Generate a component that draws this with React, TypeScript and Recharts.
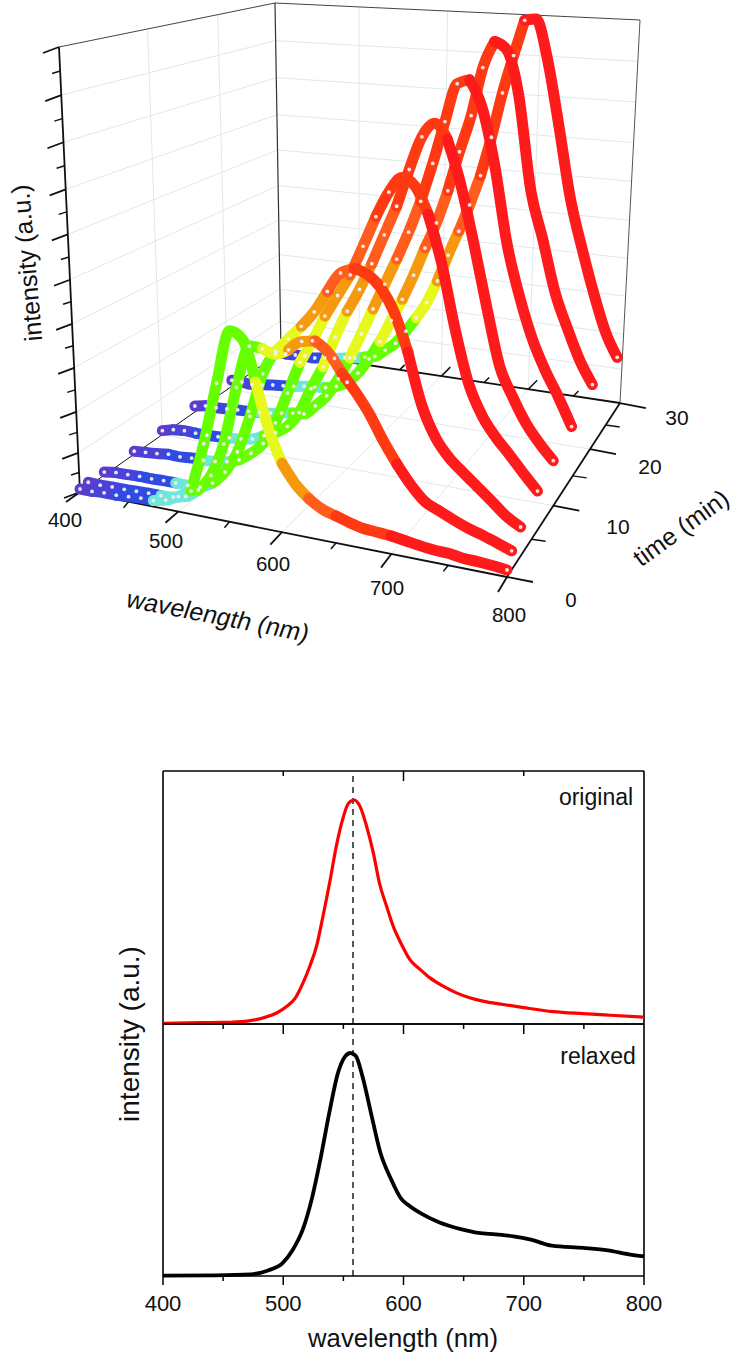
import React from "react";
import { LineChart, Line, XAxis, YAxis, ReferenceLine } from "recharts";

// ---------- waterfall data ----------
const wavelengths = [400,412.5,425,437.5,450,462.5,475,487.5,500,512.5,525,537.5,550,562.5,575,587.5,600,612.5,625,637.5,650,662.5,675,687.5,700,712.5,725,737.5,750,762.5,775,787.5,800];
const times = [0, 0.9, 2.7, 6.3, 10, 14.7, 20.7, 29];
const spectrum0 = [3,3,4,4,5,6,6,9,15,23,73,136,191,185,145,100,69,51,39,31,27,23,20,19,18,16,14,12.5,12,10,9.5,8.5,7];
const spectrum1 = [4,3.4,4,4,4.5,5,5,6,9,18,35,69,128,172,172,169,176,187,190,181,163,147,128,104,83,65,51,44.6,38.5,33,29,24,19];
const spectrum2 = [3,4.8,5,5.5,5.5,6,6,6,6.6,13,26.5,49,87,132,157,172,187,204,227,248,255,252,241,219,182,132,102,84,72,60.6,49,37,29];
const spectrum3 = [3,4,5,6.5,6,7,7,8,10,14,23,35,58,90,123,147,174,197,220,251,283,310,327,321,295,249,186,134,104,85,70,54,39];
const spectrum4 = [4,7,8,7.5,7.5,8,9,10,12,17.5,22.6,31,47,73,97,129,157,181,209,240,271,310,345,361,347,306,250,188,130,101,77,59.5,45];
const spectrum5 = [6,8,8,8.6,9.5,10,11,12,14,16,17,27,39,58,81,107,134,161,188,217,250,290,334,374,380,355,300,222,171,131,102,78,51];
const spectrum6 = [6,6,5,6.5,8,9,10,12,13,14,17,23,34,50,69,92,115,141,170,197,231,272,310,360,388,382,339,246,198,147,113,83,61];
const spectrum7 = [3.5,3,3.4,4,3.4,5,6,8,9.4,12,14,22,30.5,44,59,76,99,126.5,152,180,211,251,297,336,373,376,338,273,202,154,111,74,50];
const spectra = [spectrum0, spectrum1, spectrum2, spectrum3, spectrum4, spectrum5, spectrum6, spectrum7];
const lastRisingIndex = [11, 17, 19, 21, 22, 23, 23, 24];

const bandStops = [0, 1, 3, 6, 9, 14, 16, 18, 20, 24, 32];
const bandColors = ["#5b3ccc", "#4a42d6", "#2f4be2", "#6fe6da", "#66ff00", "#e6f81c", "#f59a0e", "#ff5c1e", "#ff3a12", "#ff1a1c"];

const wlMajor = [400, 500, 600, 700, 800];
const wlMinor = [450, 550, 650, 750];
const timeMajor = [0, 10, 20, 30];
const timeMinor = [5, 15, 25];
const heightMajor = [0, 0.088, 0.18, 0.279, 0.378, 0.477, 0.579, 0.68, 0.786, 0.892, 1];

// ---------- flat spectra ----------
const originalWl = [400,431,450,470,483,494.5,503,510,517,522,528,533,539,544,550,554,559,564,569,575,580,586,591.5,598.5,605,614,622,633,644,655,666,683,700,724.5,749.5,772,800];
const originalI = [.003,.006,.007,.013,.027,.049,.079,.116,.19,.257,.354,.48,.643,.791,.925,.984,1,.97,.889,.762,.629,.525,.436,.354,.29,.243,.206,.169,.139,.117,.102,.087,.073,.055,.046,.039,.031];
const relaxedWl = [400,443.7,472.9,487.4,499,507.7,516.5,523.8,531,538.4,545.7,551.5,555.9,560.3,566,573.4,580.6,589.4,598,604,615.6,630,647.7,662.3,676.8,691.4,706,723.4,749.6,770,787.5,800];
const relaxedI = [.0015,.003,.0075,.025,.055,.115,.212,.347,.526,.735,.914,.985,1,.987,.892,.72,.556,.437,.347,.318,.277,.24,.21,.193,.187,.178,.163,.136,.126,.115,.097,.088];
const panelTicks = [400,450,500,550,600,650,700,750,800];
const frameTicks = [500,600,700];
const peakMarker = 558;
const Y_MAX = 1.13;

// ---------- projection of the 3D box onto the page ----------
type P = { x: number; y: number };
const lerp = (a: P, b: P, s: number): P => ({ x: a.x + (b.x - a.x) * s, y: a.y + (b.y - a.y) * s });
const FLOOR_LF = { x: 80, y: 492 }, FLOOR_LB = { x: 281, y: 352 }, FLOOR_RB = { x: 620, y: 403 }, FLOOR_RF = { x: 507, y: 577 };
const TOP_LF = { x: 59, y: 47 }, TOP_LB = { x: 275, y: 3 }, TOP_RB = { x: 640, y: 20 };
const wlFrac = (w: number) => { const s = (w - 400) / 400; return (0.8975 * s) / (1 - 0.1025 * s); };
const timeFrac = (t: number) => (0.0463 * t) / (1 + 0.013 * t);
const floorPt = (w: number, t: number) => lerp(lerp(FLOOR_LF, FLOOR_LB, timeFrac(t)), lerp(FLOOR_RF, FLOOR_RB, timeFrac(t)), wlFrac(w));
const off = (p: P, dx: number, dy: number): P => ({ x: p.x + dx, y: p.y + dy });

const seg = (key: string, data: P[], stroke: string, width: number) => (
  <Line key={key} data={data} dataKey="y" type="linear" stroke={stroke} strokeWidth={width} dot={false} activeDot={false} isAnimationActive={false} legendType="none" />
);

const GRID = "#e1e8ea";
const INK = "#111";
const gridLines: React.ReactNode[] = [];
heightMajor.slice(1, -1).forEach((z, i) => {
  const a = lerp(FLOOR_LF, TOP_LF, z), b = lerp(FLOOR_LB, TOP_LB, z), c = lerp(FLOOR_RB, TOP_RB, z);
  gridLines.push(seg("gz" + i, [a, b, c], GRID, 1));
});
[10, 20].forEach((t) => {
  const f = timeFrac(t);
  gridLines.push(seg("gt" + t, [lerp(TOP_LF, TOP_LB, f), lerp(FLOOR_LF, FLOOR_LB, f), floorPt(800, t)], GRID, 1));
});
[500, 600, 700].forEach((w) => {
  const g = wlFrac(w);
  gridLines.push(seg("gw" + w, [lerp(TOP_LB, TOP_RB, g), lerp(FLOOR_LB, FLOOR_RB, g), floorPt(w, 0)], GRID, 1));
});

const boxLines: React.ReactNode[] = [
  seg("edgeTop", [TOP_LF, TOP_LB, TOP_RB], "#444", 1),
  seg("edgeBack", [TOP_LB, FLOOR_LB], "#333", 1.2),
  seg("edgeRight", [TOP_RB, FLOOR_RB], "#555", 1),
  seg("edgeLeft", [TOP_LF, FLOOR_LF], INK, 1.8),
  seg("floorLeft", [FLOOR_LF, FLOOR_LB], INK, 1),
  seg("floorBack", [FLOOR_LB, FLOOR_RB], INK, 1.8),
  seg("floorFront", [FLOOR_LF, FLOOR_RF], INK, 1.8),
  seg("floorRight", [FLOOR_RF, FLOOR_RB], INK, 1.8),
];
wlMajor.forEach((w) => {
  const p = floorPt(w, 0), s = wlFrac(w);
  boxLines.push(seg("wt" + w, [p, off(p, -14 + 5 * s, 10 + 5 * s)], INK, 1.8));
  if (w > 500 && w < 800) { const q = lerp(FLOOR_LB, FLOOR_RB, s); boxLines.push(seg("wb" + w, [q, off(q, 9, -9)], INK, 1.5)); }
});
wlMinor.forEach((w) => {
  const p = floorPt(w, 0);
  boxLines.push(seg("wm" + w, [p, off(p, -5, 6)], INK, 1.5));
  if (w > 500) { const q = lerp(FLOOR_LB, FLOOR_RB, wlFrac(w)); boxLines.push(seg("wbm" + w, [q, off(q, 5, -5)], INK, 1.5)); }
});
timeMajor.forEach((t) => { const p = floorPt(800, t); boxLines.push(seg("tt" + t, [p, off(p, 26, 5)], INK, 1.8)); });
timeMinor.forEach((t) => { const p = floorPt(800, t); boxLines.push(seg("tm" + t, [p, off(p, 14, 2)], INK, 1.5)); });
heightMajor.forEach((z, i) => {
  const p = lerp(FLOOR_LF, TOP_LF, z);
  boxLines.push(seg("zt" + i, [p, off(p, -16, 6)], INK, 1.8));
  if (i < heightMajor.length - 1) {
    const q = lerp(FLOOR_LF, TOP_LF, (z + heightMajor[i + 1]) / 2);
    boxLines.push(seg("zm" + i, [q, off(q, -8, 2.5)], INK, 1.5));
  }
});

const curves: React.ReactNode[] = [];
for (let c = spectra.length - 1; c >= 0; c--) {
  const pts = spectra[c].map((h, k) => { const p = floorPt(wavelengths[k], times[c]); return { x: p.x, y: p.y - h }; });
  bandColors.forEach((col, b) => {
    curves.push(
      <Line key={`c${c}b${b}`} data={pts.slice(bandStops[b], bandStops[b + 1] + 1)} dataKey="y" type="monotoneX" stroke={col} strokeWidth={11} strokeLinecap="round" dot={false} activeDot={false} isAnimationActive={false} legendType="none" />
    );
  });
  const dots = pts.filter((_, k) => k <= lastRisingIndex[c] || k === pts.length - 1);
  curves.push(
    <Line key={`d${c}`} data={dots} dataKey="y" type="linear" stroke="none" dot={{ r: 1.9, fill: "#f6eef0", stroke: "none", fillOpacity: 0.95 }} activeDot={false} isAnimationActive={false} legendType="none" />
  );
}

const FONT = '"Liberation Sans", Arial, sans-serif';
const Tx = ({ x, y, size, rot = 0, skew = 0, children }: any) => (
  <div style={{ position: "absolute", left: x, top: y, fontFamily: FONT, fontSize: size, color: "#111", lineHeight: 1, whiteSpace: "nowrap", transform: `translate(-50%,-50%) rotate(${rot}deg) skewX(${skew}deg)` }}>{children}</div>
);

const BottomTick = ({ x, y, payload }: any) => {
  const major = payload.value % 100 === 0;
  return (
    <g>
      <line x1={x} x2={x} y1={y} y2={y + (major ? 9 : 5)} stroke="#000" strokeWidth={1.5} />
      {major && <text x={x} y={y + 35} textAnchor="middle" fontFamily={FONT} fontSize={22} fill="#111">{payload.value}</text>}
    </g>
  );
};

const frameStyle = { stroke: "#000", strokeWidth: 1.6, ifOverflow: "visible" as const };

const Panel = ({ wl, values, color, width, top, height, margin, xHeight, showAxis, inner }: any) => (
  <div style={{ position: "absolute", left: 0, top }}>
    <LineChart width={737} height={height} margin={margin} data={wl.map((w: number, i: number) => ({ w, v: values[i] }))}>
      <XAxis dataKey="w" type="number" domain={[400, 800]} ticks={panelTicks} interval={0} tickSize={0} tickMargin={0} tickLine={false} height={xHeight} hide={!showAxis} axisLine={false} tick={BottomTick} />
      <YAxis type="number" domain={[0, Y_MAX]} hide />
      <ReferenceLine x={400} {...frameStyle} />
      <ReferenceLine x={800} {...frameStyle} />
      <ReferenceLine y={0} {...frameStyle} />
      <ReferenceLine y={Y_MAX} {...frameStyle} />
      {inner.map((t: { x: number; len: number }) => (
        <ReferenceLine key={t.x} stroke="#000" strokeWidth={1.5} ifOverflow="visible" segment={[{ x: t.x, y: Y_MAX }, { x: t.x, y: Y_MAX - t.len }]} />
      ))}
      <ReferenceLine x={peakMarker} stroke="#000" strokeWidth={1.3} strokeDasharray="6 5" />
      <Line dataKey="v" type="monotone" stroke={color} strokeWidth={width} dot={false} activeDot={false} isAnimationActive={false} />
    </LineChart>
  </div>
);

const upperInner = frameTicks.map((x) => ({ x, len: x === 600 ? 0.045 : 0.022 }));
const lowerInner = panelTicks.slice(1, -1).map((x) => ({ x, len: x % 100 === 0 ? 0.045 : 0.022 }));

export default function App() {
  return (
    <div style={{ position: "absolute", left: 0, top: 0, width: 737, height: 1357, background: "#fff", overflow: "hidden" }}>
      <div style={{ position: "absolute", left: 0, top: 0 }}>
        <LineChart width={737} height={680} margin={{ top: 0, right: 0, bottom: 0, left: 0 }}>
          <XAxis dataKey="x" type="number" domain={[0, 737]} hide />
          <YAxis type="number" domain={[0, 680]} reversed hide />
          {gridLines}
          {boxLines}
          {curves}
        </LineChart>
      </div>
      <Tx x={65} y={520} size={20.5}>400</Tx>
      <Tx x={166} y={541} size={20.5}>500</Tx>
      <Tx x={273} y={564} size={20.5}>600</Tx>
      <Tx x={387} y={588} size={20.5}>700</Tx>
      <Tx x={509} y={615} size={20.5}>800</Tx>
      <Tx x={571} y={600} size={20.5}>0</Tx>
      <Tx x={618} y={526} size={21}>10</Tx>
      <Tx x={650} y={466} size={21}>20</Tx>
      <Tx x={677} y={417} size={21}>30</Tx>
      <Tx x={218} y={616} size={25} rot={11} skew={-8}>wavelength (nm)</Tx>
      <Tx x={681} y={528} size={25} rot={-36}>time (min)</Tx>
      <Tx x={27} y={263} size={25} rot={-95}>intensity (a.u.)</Tx>

      <Panel wl={originalWl} values={originalI} color="#ff0000" width={3.2} top={740} height={300} margin={{ top: 31, right: 93, bottom: 16, left: 163 }} xHeight={0} showAxis={false} inner={upperInner} />
      <Panel wl={relaxedWl} values={relaxedI} color="#000000" width={3.8} top={1000} height={357} margin={{ top: 24, right: 93, bottom: 0, left: 163 }} xHeight={81} showAxis inner={lowerInner} />
      <Tx x={596} y={797} size={23}>original</Tx>
      <Tx x={598} y={1056} size={23}>relaxed</Tx>
      <Tx x={403} y={1339} size={25.7}>wavelength (nm)</Tx>
      <Tx x={130} y={1034} size={28}>
        <span style={{ display: "inline-block", transform: "rotate(-90deg)" }}>intensity (a.u.)</span>
      </Tx>
    </div>
  );
}
